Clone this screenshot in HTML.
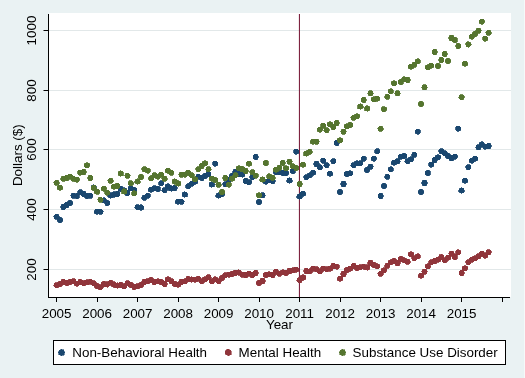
<!DOCTYPE html>
<html><head><meta charset="utf-8"><style>
html,body{margin:0;padding:0;background:#eaf2f3;width:525px;height:378px;overflow:hidden}
svg{display:block;position:absolute;left:0;top:0;will-change:transform}
</style></head><body><svg width="525" height="378" viewBox="0 0 525 378"><rect x="49" y="13" width="462" height="284" fill="#fff"/><line x1="49" x2="511" y1="269.50" y2="269.50" stroke="#e2e8e9" stroke-width="1"/><line x1="49" x2="511" y1="209.50" y2="209.50" stroke="#e2e8e9" stroke-width="1"/><line x1="49" x2="511" y1="149.50" y2="149.50" stroke="#e2e8e9" stroke-width="1"/><line x1="49" x2="511" y1="90.50" y2="90.50" stroke="#e2e8e9" stroke-width="1"/><line x1="49" x2="511" y1="30.50" y2="30.50" stroke="#e2e8e9" stroke-width="1"/><rect x="298.9" y="14" width="1.1" height="283" fill="#7e2340"/><g fill="#1a476f" stroke="#1a476f" stroke-width="0.8" shape-rendering="crispEdges"><circle cx="56.60" cy="216.70" r="2.7"/><circle cx="59.98" cy="219.90" r="2.7"/><circle cx="63.35" cy="207.00" r="2.7"/><circle cx="66.72" cy="205.00" r="2.7"/><circle cx="70.10" cy="203.00" r="2.7"/><circle cx="73.47" cy="195.70" r="2.7"/><circle cx="76.85" cy="196.00" r="2.7"/><circle cx="80.22" cy="192.20" r="2.7"/><circle cx="83.60" cy="194.00" r="2.7"/><circle cx="86.97" cy="196.00" r="2.7"/><circle cx="90.35" cy="195.70" r="2.7"/><circle cx="93.72" cy="187.50" r="2.7"/><circle cx="97.10" cy="211.70" r="2.7"/><circle cx="100.47" cy="211.70" r="2.7"/><circle cx="103.85" cy="200.30" r="2.7"/><circle cx="107.22" cy="203.00" r="2.7"/><circle cx="110.60" cy="195.50" r="2.7"/><circle cx="113.97" cy="194.50" r="2.7"/><circle cx="117.35" cy="194.00" r="2.7"/><circle cx="120.72" cy="189.00" r="2.7"/><circle cx="124.10" cy="190.30" r="2.7"/><circle cx="127.47" cy="193.00" r="2.7"/><circle cx="130.85" cy="188.30" r="2.7"/><circle cx="134.22" cy="190.00" r="2.7"/><circle cx="137.60" cy="207.20" r="2.7"/><circle cx="140.97" cy="207.50" r="2.7"/><circle cx="144.35" cy="197.70" r="2.7"/><circle cx="147.72" cy="195.70" r="2.7"/><circle cx="151.10" cy="189.70" r="2.7"/><circle cx="154.47" cy="188.20" r="2.7"/><circle cx="157.85" cy="189.00" r="2.7"/><circle cx="161.22" cy="183.20" r="2.7"/><circle cx="164.60" cy="190.20" r="2.7"/><circle cx="167.97" cy="186.50" r="2.7"/><circle cx="171.35" cy="188.50" r="2.7"/><circle cx="174.72" cy="188.00" r="2.7"/><circle cx="178.10" cy="201.70" r="2.7"/><circle cx="181.47" cy="201.70" r="2.7"/><circle cx="184.85" cy="194.50" r="2.7"/><circle cx="188.22" cy="186.20" r="2.7"/><circle cx="191.60" cy="183.80" r="2.7"/><circle cx="194.97" cy="181.50" r="2.7"/><circle cx="198.35" cy="176.70" r="2.7"/><circle cx="201.72" cy="178.00" r="2.7"/><circle cx="205.10" cy="176.00" r="2.7"/><circle cx="208.47" cy="174.00" r="2.7"/><circle cx="211.85" cy="184.50" r="2.7"/><circle cx="215.22" cy="163.70" r="2.7"/><circle cx="218.60" cy="195.50" r="2.7"/><circle cx="221.97" cy="194.00" r="2.7"/><circle cx="225.35" cy="184.20" r="2.7"/><circle cx="228.72" cy="180.00" r="2.7"/><circle cx="232.10" cy="176.00" r="2.7"/><circle cx="235.47" cy="172.00" r="2.7"/><circle cx="238.85" cy="174.00" r="2.7"/><circle cx="242.22" cy="174.50" r="2.7"/><circle cx="245.60" cy="181.00" r="2.7"/><circle cx="248.97" cy="182.20" r="2.7"/><circle cx="252.35" cy="177.00" r="2.7"/><circle cx="255.72" cy="157.00" r="2.7"/><circle cx="259.10" cy="202.00" r="2.7"/><circle cx="262.48" cy="195.30" r="2.7"/><circle cx="265.85" cy="181.70" r="2.7"/><circle cx="269.23" cy="180.30" r="2.7"/><circle cx="272.60" cy="181.00" r="2.7"/><circle cx="275.98" cy="172.00" r="2.7"/><circle cx="279.35" cy="172.30" r="2.7"/><circle cx="282.73" cy="173.00" r="2.7"/><circle cx="286.10" cy="173.00" r="2.7"/><circle cx="289.48" cy="180.50" r="2.7"/><circle cx="292.85" cy="171.00" r="2.7"/><circle cx="296.23" cy="151.70" r="2.7"/><circle cx="299.60" cy="196.50" r="2.7"/><circle cx="302.98" cy="193.70" r="2.7"/><circle cx="306.35" cy="177.30" r="2.7"/><circle cx="309.73" cy="175.30" r="2.7"/><circle cx="313.10" cy="172.70" r="2.7"/><circle cx="316.48" cy="164.00" r="2.7"/><circle cx="319.85" cy="167.30" r="2.7"/><circle cx="323.23" cy="160.70" r="2.7"/><circle cx="326.60" cy="165.30" r="2.7"/><circle cx="329.98" cy="173.70" r="2.7"/><circle cx="333.35" cy="161.30" r="2.7"/><circle cx="336.73" cy="143.00" r="2.7"/><circle cx="340.10" cy="192.00" r="2.7"/><circle cx="343.48" cy="184.00" r="2.7"/><circle cx="346.85" cy="174.00" r="2.7"/><circle cx="350.23" cy="173.30" r="2.7"/><circle cx="353.60" cy="165.30" r="2.7"/><circle cx="356.98" cy="163.30" r="2.7"/><circle cx="360.35" cy="163.30" r="2.7"/><circle cx="363.73" cy="158.70" r="2.7"/><circle cx="367.10" cy="170.00" r="2.7"/><circle cx="370.48" cy="166.70" r="2.7"/><circle cx="373.85" cy="158.70" r="2.7"/><circle cx="377.23" cy="151.20" r="2.7"/><circle cx="380.60" cy="196.00" r="2.7"/><circle cx="383.98" cy="186.00" r="2.7"/><circle cx="387.35" cy="176.70" r="2.7"/><circle cx="390.73" cy="169.30" r="2.7"/><circle cx="394.10" cy="162.70" r="2.7"/><circle cx="397.48" cy="161.30" r="2.7"/><circle cx="400.85" cy="156.70" r="2.7"/><circle cx="404.23" cy="156.00" r="2.7"/><circle cx="407.60" cy="161.30" r="2.7"/><circle cx="410.98" cy="159.30" r="2.7"/><circle cx="414.35" cy="154.70" r="2.7"/><circle cx="417.73" cy="131.70" r="2.7"/><circle cx="421.10" cy="192.00" r="2.7"/><circle cx="424.48" cy="183.00" r="2.7"/><circle cx="427.85" cy="173.00" r="2.7"/><circle cx="431.23" cy="164.70" r="2.7"/><circle cx="434.60" cy="160.00" r="2.7"/><circle cx="437.98" cy="157.30" r="2.7"/><circle cx="441.35" cy="151.30" r="2.7"/><circle cx="444.73" cy="153.30" r="2.7"/><circle cx="448.10" cy="156.00" r="2.7"/><circle cx="451.48" cy="158.00" r="2.7"/><circle cx="454.85" cy="156.70" r="2.7"/><circle cx="458.23" cy="128.70" r="2.7"/><circle cx="461.60" cy="190.50" r="2.7"/><circle cx="464.98" cy="180.70" r="2.7"/><circle cx="468.35" cy="167.30" r="2.7"/><circle cx="471.73" cy="160.70" r="2.7"/><circle cx="475.10" cy="158.70" r="2.7"/><circle cx="478.48" cy="147.30" r="2.7"/><circle cx="481.85" cy="144.30" r="2.7"/><circle cx="485.23" cy="146.70" r="2.7"/><circle cx="488.60" cy="146.00" r="2.7"/></g><g fill="#90353b" stroke="#90353b" stroke-width="0.8" shape-rendering="crispEdges"><circle cx="56.60" cy="285.30" r="2.7"/><circle cx="59.98" cy="284.00" r="2.7"/><circle cx="63.35" cy="282.00" r="2.7"/><circle cx="66.72" cy="283.00" r="2.7"/><circle cx="70.10" cy="282.00" r="2.7"/><circle cx="73.47" cy="281.30" r="2.7"/><circle cx="76.85" cy="283.60" r="2.7"/><circle cx="80.22" cy="282.00" r="2.7"/><circle cx="83.60" cy="283.30" r="2.7"/><circle cx="86.97" cy="282.30" r="2.7"/><circle cx="90.35" cy="281.70" r="2.7"/><circle cx="93.72" cy="283.30" r="2.7"/><circle cx="97.10" cy="286.00" r="2.7"/><circle cx="100.47" cy="287.30" r="2.7"/><circle cx="103.85" cy="284.00" r="2.7"/><circle cx="107.22" cy="284.40" r="2.7"/><circle cx="110.60" cy="282.70" r="2.7"/><circle cx="113.97" cy="284.50" r="2.7"/><circle cx="117.35" cy="285.50" r="2.7"/><circle cx="120.72" cy="285.00" r="2.7"/><circle cx="124.10" cy="286.30" r="2.7"/><circle cx="127.47" cy="283.30" r="2.7"/><circle cx="130.85" cy="285.00" r="2.7"/><circle cx="134.22" cy="287.00" r="2.7"/><circle cx="137.60" cy="286.30" r="2.7"/><circle cx="140.97" cy="285.00" r="2.7"/><circle cx="144.35" cy="282.00" r="2.7"/><circle cx="147.72" cy="281.30" r="2.7"/><circle cx="151.10" cy="280.00" r="2.7"/><circle cx="154.47" cy="282.00" r="2.7"/><circle cx="157.85" cy="281.30" r="2.7"/><circle cx="161.22" cy="282.00" r="2.7"/><circle cx="164.60" cy="284.00" r="2.7"/><circle cx="167.97" cy="279.30" r="2.7"/><circle cx="171.35" cy="281.30" r="2.7"/><circle cx="174.72" cy="284.00" r="2.7"/><circle cx="178.10" cy="284.70" r="2.7"/><circle cx="181.47" cy="282.00" r="2.7"/><circle cx="184.85" cy="281.30" r="2.7"/><circle cx="188.22" cy="279.00" r="2.7"/><circle cx="191.60" cy="279.60" r="2.7"/><circle cx="194.97" cy="279.60" r="2.7"/><circle cx="198.35" cy="278.70" r="2.7"/><circle cx="201.72" cy="281.30" r="2.7"/><circle cx="205.10" cy="279.30" r="2.7"/><circle cx="208.47" cy="277.30" r="2.7"/><circle cx="211.85" cy="281.30" r="2.7"/><circle cx="215.22" cy="279.30" r="2.7"/><circle cx="218.60" cy="281.30" r="2.7"/><circle cx="221.97" cy="278.00" r="2.7"/><circle cx="225.35" cy="275.30" r="2.7"/><circle cx="228.72" cy="274.70" r="2.7"/><circle cx="232.10" cy="274.00" r="2.7"/><circle cx="235.47" cy="273.00" r="2.7"/><circle cx="238.85" cy="272.50" r="2.7"/><circle cx="242.22" cy="274.80" r="2.7"/><circle cx="245.60" cy="275.00" r="2.7"/><circle cx="248.97" cy="273.70" r="2.7"/><circle cx="252.35" cy="275.00" r="2.7"/><circle cx="255.72" cy="273.00" r="2.7"/><circle cx="259.10" cy="283.00" r="2.7"/><circle cx="262.48" cy="281.00" r="2.7"/><circle cx="265.85" cy="275.00" r="2.7"/><circle cx="269.23" cy="274.30" r="2.7"/><circle cx="272.60" cy="275.00" r="2.7"/><circle cx="275.98" cy="271.70" r="2.7"/><circle cx="279.35" cy="273.70" r="2.7"/><circle cx="282.73" cy="272.30" r="2.7"/><circle cx="286.10" cy="273.00" r="2.7"/><circle cx="289.48" cy="271.00" r="2.7"/><circle cx="292.85" cy="270.30" r="2.7"/><circle cx="296.23" cy="269.70" r="2.7"/><circle cx="299.60" cy="280.30" r="2.7"/><circle cx="302.98" cy="277.50" r="2.7"/><circle cx="306.35" cy="271.00" r="2.7"/><circle cx="309.73" cy="271.30" r="2.7"/><circle cx="313.10" cy="268.70" r="2.7"/><circle cx="316.48" cy="269.30" r="2.7"/><circle cx="319.85" cy="271.30" r="2.7"/><circle cx="323.23" cy="268.70" r="2.7"/><circle cx="326.60" cy="269.30" r="2.7"/><circle cx="329.98" cy="268.70" r="2.7"/><circle cx="333.35" cy="266.00" r="2.7"/><circle cx="336.73" cy="266.70" r="2.7"/><circle cx="340.10" cy="278.70" r="2.7"/><circle cx="343.48" cy="274.00" r="2.7"/><circle cx="346.85" cy="270.00" r="2.7"/><circle cx="350.23" cy="268.70" r="2.7"/><circle cx="353.60" cy="266.00" r="2.7"/><circle cx="356.98" cy="268.00" r="2.7"/><circle cx="360.35" cy="267.30" r="2.7"/><circle cx="363.73" cy="266.70" r="2.7"/><circle cx="367.10" cy="267.50" r="2.7"/><circle cx="370.48" cy="263.00" r="2.7"/><circle cx="373.85" cy="265.00" r="2.7"/><circle cx="377.23" cy="266.30" r="2.7"/><circle cx="380.60" cy="273.70" r="2.7"/><circle cx="383.98" cy="270.30" r="2.7"/><circle cx="387.35" cy="265.70" r="2.7"/><circle cx="390.73" cy="262.30" r="2.7"/><circle cx="394.10" cy="261.00" r="2.7"/><circle cx="397.48" cy="263.00" r="2.7"/><circle cx="400.85" cy="259.00" r="2.7"/><circle cx="404.23" cy="260.30" r="2.7"/><circle cx="407.60" cy="261.70" r="2.7"/><circle cx="410.98" cy="254.30" r="2.7"/><circle cx="414.35" cy="258.30" r="2.7"/><circle cx="417.73" cy="256.30" r="2.7"/><circle cx="421.10" cy="275.70" r="2.7"/><circle cx="424.48" cy="271.70" r="2.7"/><circle cx="427.85" cy="266.30" r="2.7"/><circle cx="431.23" cy="262.30" r="2.7"/><circle cx="434.60" cy="261.00" r="2.7"/><circle cx="437.98" cy="259.70" r="2.7"/><circle cx="441.35" cy="257.00" r="2.7"/><circle cx="444.73" cy="260.30" r="2.7"/><circle cx="448.10" cy="257.70" r="2.7"/><circle cx="451.48" cy="253.70" r="2.7"/><circle cx="454.85" cy="257.00" r="2.7"/><circle cx="458.23" cy="252.30" r="2.7"/><circle cx="461.60" cy="273.00" r="2.7"/><circle cx="464.98" cy="268.30" r="2.7"/><circle cx="468.35" cy="262.30" r="2.7"/><circle cx="471.73" cy="259.70" r="2.7"/><circle cx="475.10" cy="258.30" r="2.7"/><circle cx="478.48" cy="256.30" r="2.7"/><circle cx="481.85" cy="253.70" r="2.7"/><circle cx="485.23" cy="255.70" r="2.7"/><circle cx="488.60" cy="252.30" r="2.7"/></g><g fill="#55752f" stroke="#55752f" stroke-width="0.8" shape-rendering="crispEdges"><circle cx="56.60" cy="182.70" r="2.7"/><circle cx="59.98" cy="187.70" r="2.7"/><circle cx="63.35" cy="178.70" r="2.7"/><circle cx="66.72" cy="178.00" r="2.7"/><circle cx="70.10" cy="176.70" r="2.7"/><circle cx="73.47" cy="178.70" r="2.7"/><circle cx="76.85" cy="179.70" r="2.7"/><circle cx="80.22" cy="172.70" r="2.7"/><circle cx="83.60" cy="172.00" r="2.7"/><circle cx="86.97" cy="165.30" r="2.7"/><circle cx="90.35" cy="178.00" r="2.7"/><circle cx="93.72" cy="187.80" r="2.7"/><circle cx="97.10" cy="191.80" r="2.7"/><circle cx="100.47" cy="199.70" r="2.7"/><circle cx="103.85" cy="188.70" r="2.7"/><circle cx="107.22" cy="192.70" r="2.7"/><circle cx="110.60" cy="180.70" r="2.7"/><circle cx="113.97" cy="186.70" r="2.7"/><circle cx="117.35" cy="186.00" r="2.7"/><circle cx="120.72" cy="173.50" r="2.7"/><circle cx="124.10" cy="191.50" r="2.7"/><circle cx="127.47" cy="175.70" r="2.7"/><circle cx="130.85" cy="183.20" r="2.7"/><circle cx="134.22" cy="193.30" r="2.7"/><circle cx="137.60" cy="181.50" r="2.7"/><circle cx="140.97" cy="177.00" r="2.7"/><circle cx="144.35" cy="169.30" r="2.7"/><circle cx="147.72" cy="170.70" r="2.7"/><circle cx="151.10" cy="178.40" r="2.7"/><circle cx="154.47" cy="175.30" r="2.7"/><circle cx="157.85" cy="176.70" r="2.7"/><circle cx="161.22" cy="174.70" r="2.7"/><circle cx="164.60" cy="178.70" r="2.7"/><circle cx="167.97" cy="170.70" r="2.7"/><circle cx="171.35" cy="172.70" r="2.7"/><circle cx="174.72" cy="181.50" r="2.7"/><circle cx="178.10" cy="183.50" r="2.7"/><circle cx="181.47" cy="174.70" r="2.7"/><circle cx="184.85" cy="174.70" r="2.7"/><circle cx="188.22" cy="172.70" r="2.7"/><circle cx="191.60" cy="175.30" r="2.7"/><circle cx="194.97" cy="179.30" r="2.7"/><circle cx="198.35" cy="169.30" r="2.7"/><circle cx="201.72" cy="166.00" r="2.7"/><circle cx="205.10" cy="163.30" r="2.7"/><circle cx="208.47" cy="169.30" r="2.7"/><circle cx="211.85" cy="178.70" r="2.7"/><circle cx="215.22" cy="180.00" r="2.7"/><circle cx="218.60" cy="184.70" r="2.7"/><circle cx="221.97" cy="192.00" r="2.7"/><circle cx="225.35" cy="178.00" r="2.7"/><circle cx="228.72" cy="184.70" r="2.7"/><circle cx="232.10" cy="178.70" r="2.7"/><circle cx="235.47" cy="175.30" r="2.7"/><circle cx="238.85" cy="168.30" r="2.7"/><circle cx="242.22" cy="169.00" r="2.7"/><circle cx="245.60" cy="171.00" r="2.7"/><circle cx="248.97" cy="163.70" r="2.7"/><circle cx="252.35" cy="172.30" r="2.7"/><circle cx="255.72" cy="175.70" r="2.7"/><circle cx="259.10" cy="195.30" r="2.7"/><circle cx="262.48" cy="179.50" r="2.7"/><circle cx="265.85" cy="163.00" r="2.7"/><circle cx="269.23" cy="176.30" r="2.7"/><circle cx="272.60" cy="177.70" r="2.7"/><circle cx="275.98" cy="169.70" r="2.7"/><circle cx="279.35" cy="167.70" r="2.7"/><circle cx="282.73" cy="163.00" r="2.7"/><circle cx="286.10" cy="168.30" r="2.7"/><circle cx="289.48" cy="161.70" r="2.7"/><circle cx="292.85" cy="166.30" r="2.7"/><circle cx="296.23" cy="168.00" r="2.7"/><circle cx="299.60" cy="184.00" r="2.7"/><circle cx="302.98" cy="164.70" r="2.7"/><circle cx="306.35" cy="153.50" r="2.7"/><circle cx="309.73" cy="151.80" r="2.7"/><circle cx="313.10" cy="141.70" r="2.7"/><circle cx="316.48" cy="141.70" r="2.7"/><circle cx="319.85" cy="129.70" r="2.7"/><circle cx="323.23" cy="125.70" r="2.7"/><circle cx="326.60" cy="130.30" r="2.7"/><circle cx="329.98" cy="124.30" r="2.7"/><circle cx="333.35" cy="127.00" r="2.7"/><circle cx="336.73" cy="123.00" r="2.7"/><circle cx="340.10" cy="140.30" r="2.7"/><circle cx="343.48" cy="131.70" r="2.7"/><circle cx="346.85" cy="126.30" r="2.7"/><circle cx="350.23" cy="125.00" r="2.7"/><circle cx="353.60" cy="117.70" r="2.7"/><circle cx="356.98" cy="116.30" r="2.7"/><circle cx="360.35" cy="106.50" r="2.7"/><circle cx="363.73" cy="100.00" r="2.7"/><circle cx="367.10" cy="108.50" r="2.7"/><circle cx="370.48" cy="93.30" r="2.7"/><circle cx="373.85" cy="99.30" r="2.7"/><circle cx="377.23" cy="98.70" r="2.7"/><circle cx="380.60" cy="128.70" r="2.7"/><circle cx="383.98" cy="109.20" r="2.7"/><circle cx="387.35" cy="96.70" r="2.7"/><circle cx="390.73" cy="91.30" r="2.7"/><circle cx="394.10" cy="83.30" r="2.7"/><circle cx="397.48" cy="93.30" r="2.7"/><circle cx="400.85" cy="82.00" r="2.7"/><circle cx="404.23" cy="79.30" r="2.7"/><circle cx="407.60" cy="80.00" r="2.7"/><circle cx="410.98" cy="66.70" r="2.7"/><circle cx="414.35" cy="64.70" r="2.7"/><circle cx="417.73" cy="61.30" r="2.7"/><circle cx="421.10" cy="104.00" r="2.7"/><circle cx="424.48" cy="87.30" r="2.7"/><circle cx="427.85" cy="67.30" r="2.7"/><circle cx="431.23" cy="65.70" r="2.7"/><circle cx="434.60" cy="52.00" r="2.7"/><circle cx="437.98" cy="66.00" r="2.7"/><circle cx="441.35" cy="60.00" r="2.7"/><circle cx="444.73" cy="54.00" r="2.7"/><circle cx="448.10" cy="61.00" r="2.7"/><circle cx="451.48" cy="38.00" r="2.7"/><circle cx="454.85" cy="40.00" r="2.7"/><circle cx="458.23" cy="46.00" r="2.7"/><circle cx="461.60" cy="97.30" r="2.7"/><circle cx="464.98" cy="63.70" r="2.7"/><circle cx="468.35" cy="44.40" r="2.7"/><circle cx="471.73" cy="36.70" r="2.7"/><circle cx="475.10" cy="34.00" r="2.7"/><circle cx="478.48" cy="30.70" r="2.7"/><circle cx="481.85" cy="21.70" r="2.7"/><circle cx="485.23" cy="38.70" r="2.7"/><circle cx="488.60" cy="32.70" r="2.7"/></g><rect x="48" y="14" width="1" height="284" fill="#000"/><rect x="48" y="297" width="462" height="1" fill="#000"/><rect x="43.5" y="269.00" width="4.5" height="1" fill="#000"/><text transform="translate(35.7,269.50) rotate(-90)" text-anchor="middle" style="font-family:'Liberation Sans',sans-serif;font-size:13.4px" fill="#000">200</text><rect x="43.5" y="209.00" width="4.5" height="1" fill="#000"/><text transform="translate(35.7,209.50) rotate(-90)" text-anchor="middle" style="font-family:'Liberation Sans',sans-serif;font-size:13.4px" fill="#000">400</text><rect x="43.5" y="149.00" width="4.5" height="1" fill="#000"/><text transform="translate(35.7,149.50) rotate(-90)" text-anchor="middle" style="font-family:'Liberation Sans',sans-serif;font-size:13.4px" fill="#000">600</text><rect x="43.5" y="90.00" width="4.5" height="1" fill="#000"/><text transform="translate(35.7,90.50) rotate(-90)" text-anchor="middle" style="font-family:'Liberation Sans',sans-serif;font-size:13.4px" fill="#000">800</text><rect x="43.5" y="30.00" width="4.5" height="1" fill="#000"/><text transform="translate(35.7,30.50) rotate(-90)" text-anchor="middle" style="font-family:'Liberation Sans',sans-serif;font-size:13.4px" fill="#000">1000</text><rect x="56" y="298" width="1" height="4" fill="#000"/><text x="56.60" y="317.7" text-anchor="middle" style="font-family:'Liberation Sans',sans-serif;font-size:13.4px" fill="#000">2005</text><rect x="97" y="298" width="1" height="4" fill="#000"/><text x="97.10" y="317.7" text-anchor="middle" style="font-family:'Liberation Sans',sans-serif;font-size:13.4px" fill="#000">2006</text><rect x="137" y="298" width="1" height="4" fill="#000"/><text x="137.60" y="317.7" text-anchor="middle" style="font-family:'Liberation Sans',sans-serif;font-size:13.4px" fill="#000">2007</text><rect x="178" y="298" width="1" height="4" fill="#000"/><text x="178.10" y="317.7" text-anchor="middle" style="font-family:'Liberation Sans',sans-serif;font-size:13.4px" fill="#000">2008</text><rect x="218" y="298" width="1" height="4" fill="#000"/><text x="218.60" y="317.7" text-anchor="middle" style="font-family:'Liberation Sans',sans-serif;font-size:13.4px" fill="#000">2009</text><rect x="259" y="298" width="1" height="4" fill="#000"/><text x="259.10" y="317.7" text-anchor="middle" style="font-family:'Liberation Sans',sans-serif;font-size:13.4px" fill="#000">2010</text><rect x="299" y="298" width="1" height="4" fill="#000"/><text x="299.60" y="317.7" text-anchor="middle" style="font-family:'Liberation Sans',sans-serif;font-size:13.4px" fill="#000">2011</text><rect x="340" y="298" width="1" height="4" fill="#000"/><text x="340.10" y="317.7" text-anchor="middle" style="font-family:'Liberation Sans',sans-serif;font-size:13.4px" fill="#000">2012</text><rect x="380" y="298" width="1" height="4" fill="#000"/><text x="380.60" y="317.7" text-anchor="middle" style="font-family:'Liberation Sans',sans-serif;font-size:13.4px" fill="#000">2013</text><rect x="421" y="298" width="1" height="4" fill="#000"/><text x="421.10" y="317.7" text-anchor="middle" style="font-family:'Liberation Sans',sans-serif;font-size:13.4px" fill="#000">2014</text><rect x="461" y="298" width="1" height="4" fill="#000"/><text x="461.60" y="317.7" text-anchor="middle" style="font-family:'Liberation Sans',sans-serif;font-size:13.4px" fill="#000">2015</text><rect x="502" y="298" width="1" height="4" fill="#000"/><text x="279.5" y="328.7" text-anchor="middle" style="font-family:'Liberation Sans',sans-serif;font-size:13.4px" fill="#000">Year</text><text transform="translate(21.6,155.2) rotate(-90)" text-anchor="middle" style="font-family:'Liberation Sans',sans-serif;font-size:13.4px" fill="#000">Dollars ($)</text><rect x="53.5" y="340.5" width="452" height="24" fill="#fff" stroke="#000" stroke-width="1"/><circle cx="61.5" cy="352.5" r="3.1" fill="#1a476f" stroke="#1a476f" stroke-width="0.6" shape-rendering="crispEdges"/><text x="72.3" y="357" style="font-family:'Liberation Sans',sans-serif;font-size:13.4px" fill="#000">Non-Behavioral Health</text><circle cx="228.3" cy="352.5" r="3.1" fill="#90353b" stroke="#90353b" stroke-width="0.6" shape-rendering="crispEdges"/><text x="238.6" y="357" style="font-family:'Liberation Sans',sans-serif;font-size:13.4px" fill="#000">Mental Health</text><circle cx="342.5" cy="352.5" r="3.1" fill="#55752f" stroke="#55752f" stroke-width="0.6" shape-rendering="crispEdges"/><text x="352.6" y="357" style="font-family:'Liberation Sans',sans-serif;font-size:13.4px" fill="#000">Substance Use Disorder</text><rect x="524" y="0" width="1" height="378" fill="#f6f9f9"/></svg></body></html>
